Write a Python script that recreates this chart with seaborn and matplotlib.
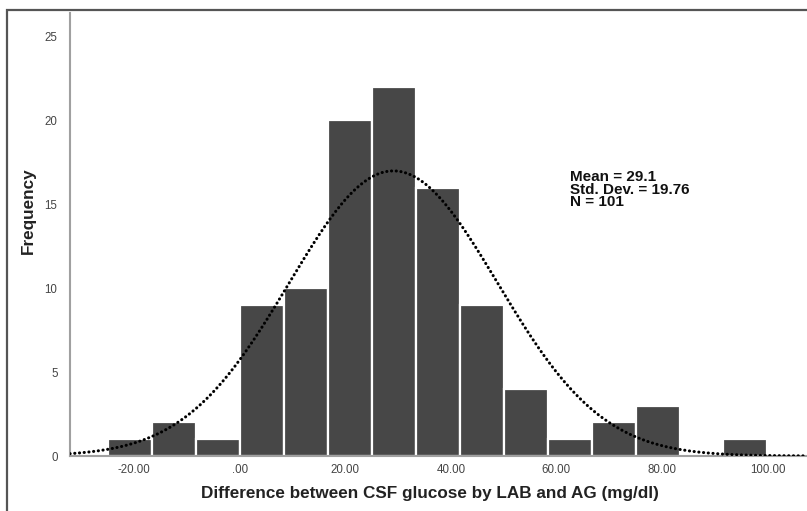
import numpy as np
import pandas as pd
import seaborn as sns
import matplotlib.pyplot as plt
from matplotlib.patches import Rectangle

# histogram bins (width 100/12) and counts
bin_edges = [-25.0, -16.667, -8.333, 0.0, 8.333, 16.667, 25.0, 33.333,
             41.667, 50.0, 58.333, 66.667, 75.0, 83.333, 91.667, 100.0]
counts = [1, 2, 1, 9, 10, 20, 22, 16, 9, 4, 1, 2, 3, 0, 1]

# summary statistics shown on the chart
mean_val = 29.1
sd_val = 19.76
n_val = 101

x_ticks = [-20, 0, 20, 40, 60, 80, 100]
x_tick_labels = ["-20.00", ".00", "20.00", "40.00", "60.00", "80.00", "100.00"]
y_ticks = [0, 5, 10, 15, 20, 25]

sns.set_style("white")
plt.rcParams['font.family'] = ['Liberation Sans', 'DejaVu Sans']

centers = [(a + b) / 2 for a, b in zip(bin_edges[:-1], bin_edges[1:])]
df = pd.DataFrame({"diff": centers, "count": counts})

fig = plt.figure(figsize=(8.07, 5.11), dpi=100)
ax = fig.add_axes([70 / 807, 55 / 511, 1 - 70 / 807, 443 / 511])

sns.histplot(data=df, x="diff", weights="count", bins=bin_edges,
             color="#474747", edgecolor="white", linewidth=1.6, alpha=1,
             ax=ax)

# fitted normal curve scaled to counts (dotted, round dots)
bw = bin_edges[1] - bin_edges[0]
xs = np.linspace(-32.2, 107.5, 400)
ys = n_val * bw / (sd_val * np.sqrt(2 * np.pi)) * np.exp(-0.5 * ((xs - mean_val) / sd_val) ** 2)
ax.plot(xs, ys, color="black", linewidth=2.2,
        linestyle=(0, (0.05, 1.5)), dash_capstyle="round", zorder=5)

ax.set_xlim(-32.2, 107.5)
ax.set_ylim(0, 26.4)
ax.set_xticks(x_ticks)
ax.set_xticklabels(x_tick_labels)
ax.set_yticks(y_ticks)
ax.tick_params(axis="both", length=0, labelsize=8.3, colors="#444444")
ax.tick_params(axis="x", pad=6)
ax.tick_params(axis="y", pad=9)

for side in ["top", "right"]:
    ax.spines[side].set_visible(False)
for side in ["left", "bottom"]:
    ax.spines[side].set_color("#a0a0a0")
    ax.spines[side].set_linewidth(1.5)

ax.set_xlabel("Difference between CSF glucose by LAB and AG (mg/dl)",
              fontsize=12.3, fontweight="bold", color="#222222")
ax.xaxis.set_label_coords(0.488, -0.068)
ax.set_ylabel("Frequency", fontsize=12.3, fontweight="bold", color="#222222")
ax.yaxis.set_label_coords(-0.046, 0.553)

ax.text(0.678, 0.645, f"Mean = {mean_val}\nStd. Dev. = {sd_val}\nN = {n_val}",
        transform=ax.transAxes, fontsize=11, fontweight="bold",
        va="top", ha="left", linespacing=0.85, color="#111111")

# outer frame of the exported chart
fig.patches.append(Rectangle((7 / 807, -0.1), 1.1, (511 - 10) / 511 + 0.1,
                             transform=fig.transFigure, fill=False,
                             edgecolor="#555555", linewidth=1.6, zorder=10))

fig.savefig("out.png", dpi=100)
